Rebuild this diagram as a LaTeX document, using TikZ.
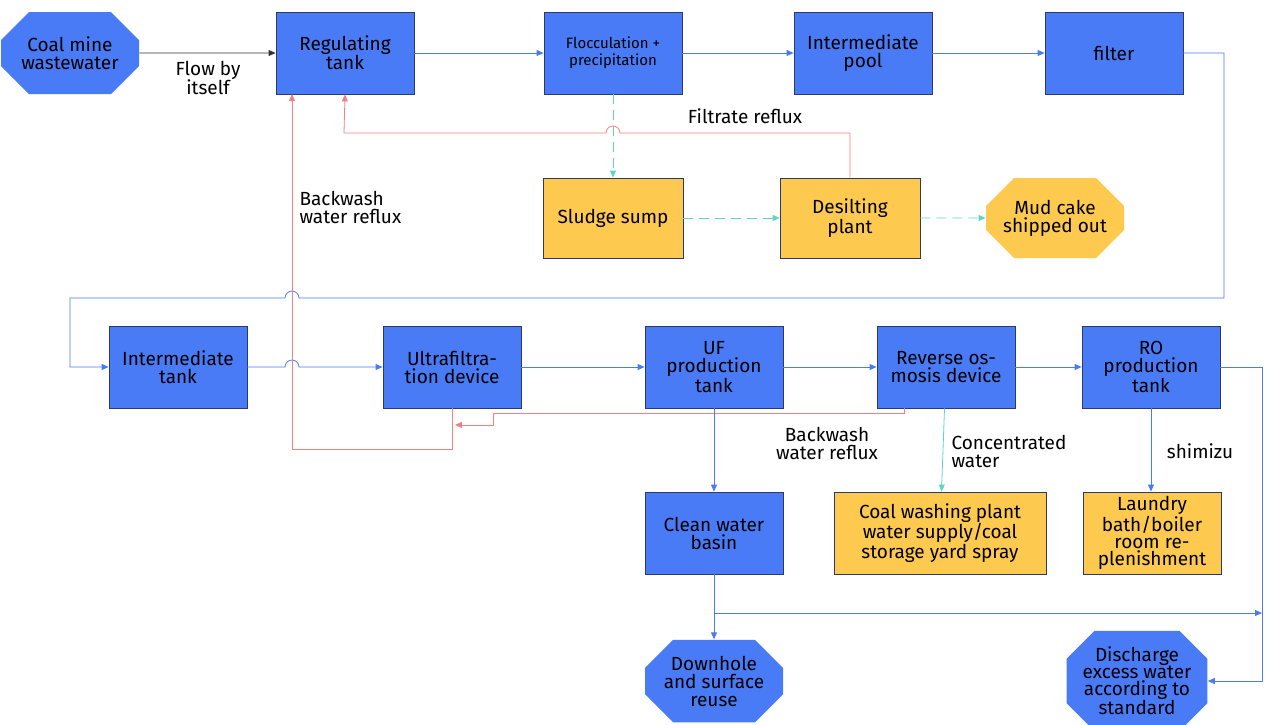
\documentclass[tikz,border=0pt]{standalone}
\usepackage{fontspec}
\setmainfont{Fira Sans}
\usetikzlibrary{arrows.meta,shapes.misc}
\definecolor{boxblue}{HTML}{4A7BF7}
\definecolor{boxedge}{HTML}{2B3A6B}
\definecolor{boxyellow}{HTML}{FDC94F}
\definecolor{linered}{HTML}{F28080}
\definecolor{lineteal}{HTML}{5ED6C6}
\tikzset{
  unit/.style={rectangle, draw=boxedge, thick, fill=boxblue, minimum width=138pt, minimum height=82pt,
               inner sep=2pt, align=center, font=\fontsize{19}{18}\selectfont},
  store/.style={unit, fill=boxyellow},
  octa/.style={unit, draw=none, chamfered rectangle, chamfered rectangle xsep=14pt, chamfered rectangle ysep=14pt},
  fwd/.style={-{Triangle[length=7pt,width=6pt]}, thick, draw=boxblue},
  back/.style={-{Triangle[length=7pt,width=6pt]}, thick, draw=linered},
  mud/.style={-{Triangle[length=7pt,width=6pt]}, thick, draw=lineteal},
  lbl/.style={font=\fontsize{19}{18}\selectfont, align=left},
}
\begin{document}
\begin{tikzpicture}[x=1pt,y=-1pt]
\useasboundingbox (0,0) rectangle (1269,724);
%Nodes
\node[octa] (mine) at (70,53) {Coal mine\\wastewater};
\node[unit] (regtank) at (345,53) {Regulating\\tank};
\node[unit, font=\fontsize{15}{17}\selectfont] (floc) at (613,53) {Flocculation +\\precipitation};
\node[unit] (midpool) at (863,53) {Intermediate\\pool};
\node[unit] (filter) at (1114,53) {filter};
\node[store, minimum width=140pt, minimum height=80pt] (sump) at (613,218) {Sludge sump};
\node[store, minimum width=140pt, minimum height=80pt] (desilt) at (850,218) {Desilting\\plant};
\node[octa, fill=boxyellow, minimum height=80pt] (cake) at (1055,218) {Mud cake\\shipped out};
\node[unit] (midtank) at (178,367) {Intermediate\\tank};
\node[unit] (ufdev) at (452,367) {Ultrafiltra-\\tion device};
\node[unit] (uftank) at (714,367) {UF\\production\\tank};
\node[unit] (rodev) at (946,367) {Reverse os-\\mosis device};
\node[unit] (rotank) at (1151,367) {RO\\production\\tank};
\node[unit] (clean) at (714,533) {Clean water\\basin};
\node[store, minimum width=212pt] (washing) at (940,533) {Coal washing plant\\water supply/coal\\storage yard spray};
\node[store, font=\fontsize{19}{17}\selectfont] (laundry) at (1152,533) {Laundry\\bath/boiler\\room re-\\plenishment};
\node[octa] (reuse) at (714,681) {Downhole\\and surface\\reuse};
\node[octa, minimum width=136pt, font=\fontsize{19}{17}\selectfont] (discharge) at (1137,681) {Discharge\\excess water\\according to\\standard};
\coordinate (split) at (714,613);
\coordinate (rodrop) at (1262,613);

%Lines
\draw[-{Triangle[length=7pt,width=6pt]}, thick, draw=black!80] (mine) -- (regtank);
\node[lbl, align=center] at (208,78) {Flow by\\itself};
\draw[fwd] (regtank) -- (floc);
\draw[fwd] (floc) -- (midpool);
\draw[fwd] (midpool) -- (filter);
\draw[fwd] (filter.east) -- (1224,53) -- (1224,298) -- (299,298)
  arc[start angle=0, end angle=180, radius=7pt] -- (70,298) -- (70,367) -- (midtank.west);
\draw[fwd] (midtank.east) -- (285,367) arc[start angle=180, end angle=0, radius=7pt] -- (ufdev.west);
\draw[fwd] (ufdev) -- (uftank);
\draw[fwd] (uftank) -- (rodev);
\draw[fwd] (rodev) -- (rotank);
\draw[mud, dashed, dash pattern=on 10pt off 6pt] (floc) -- (sump);
\draw[mud, dashed, dash pattern=on 10pt off 6pt] (sump) -- (desilt);
\draw[mud, dashed, dash pattern=on 10pt off 6pt] (desilt) -- (cake);
\draw[back] (desilt.north) -- (850,133) -- (620,133) arc[start angle=0, end angle=180, radius=7pt]
  -- (344,133) -- (regtank.south);
\node[lbl] at (745,116) {Filtrate reflux};
\draw[back] (ufdev.south) -- (452,449) -- (292,449) -- (292,94);
\node[lbl, anchor=north west] at (296,188) {Backwash\\water reflux};
\draw[back] (904,408) -- (904,413) -- (493,413) -- (493,425) -- (455,425);
\node[lbl, align=center] at (827,443) {Backwash\\water reflux};
\draw[fwd] (uftank) -- (clean);
\draw[fwd] (clean) -- (reuse);
\draw[fwd] (split) -- (rodrop);
\draw[mud] (rodev) -- (washing);
\node[lbl, anchor=north west] at (948,432) {Concentrated\\water};
\draw[fwd] (rotank) -- (rotank |- laundry.north);
\node[lbl] at (1200,451) {shimizu};
\draw[fwd] (rotank.east) -- (1262,367) -- (1262,681) -- (discharge.east);
\end{tikzpicture}
\end{document}
